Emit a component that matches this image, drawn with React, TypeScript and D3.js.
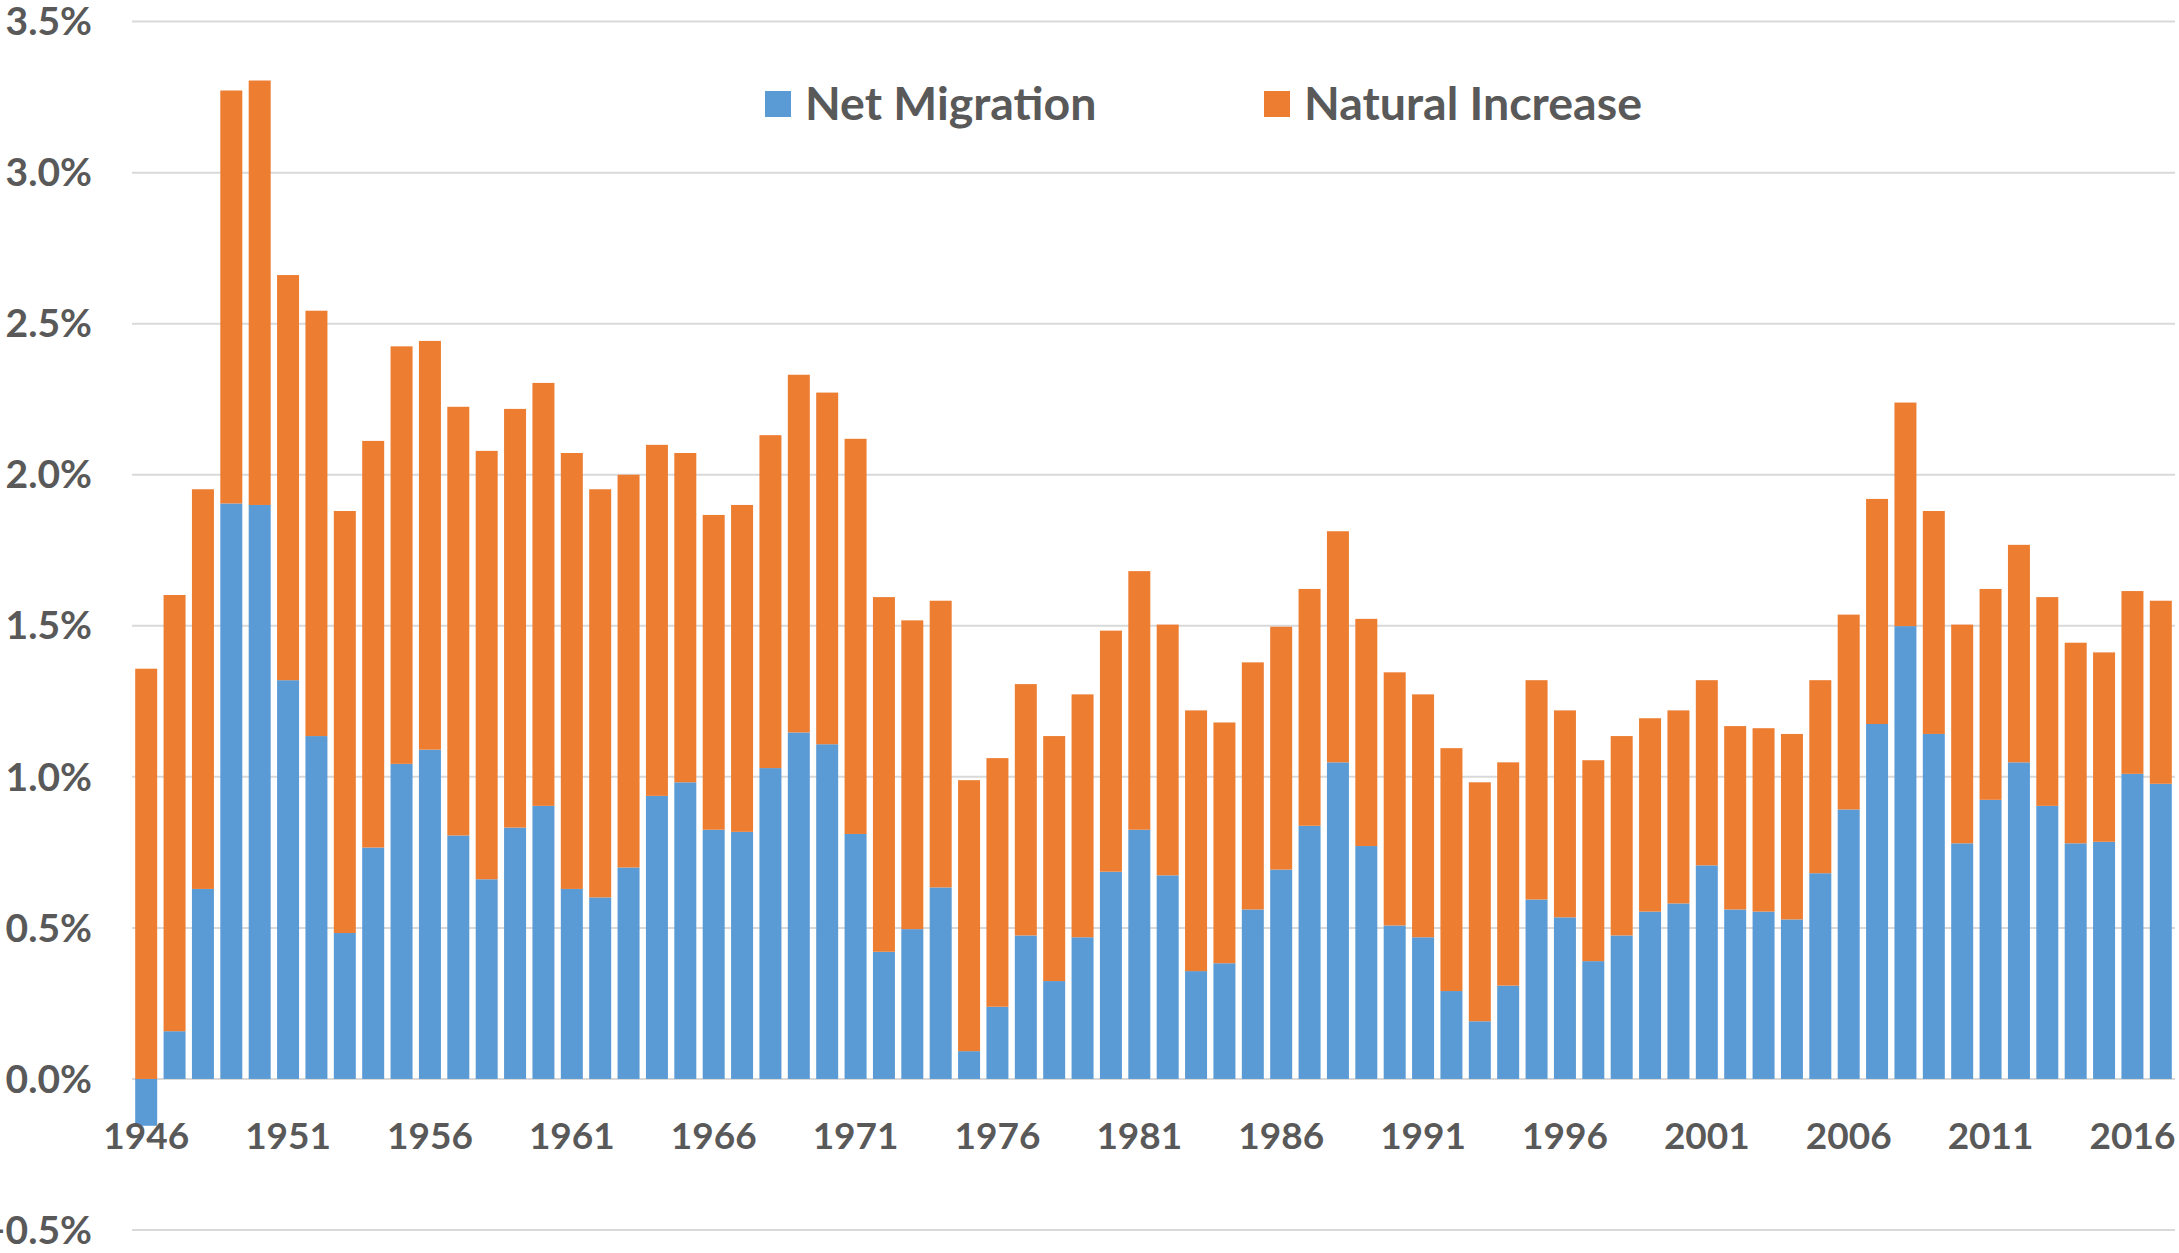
import React from "react";
import * as d3 from "d3";

// years 1946..2017
const years = d3.range(1946, 2018).map(String);

// percent of population
const netMigration = [
  -0.155, 0.158, 0.629, 1.905, 1.9, 1.32, 1.135, 0.483, 0.766, 1.043,
  1.09, 0.806, 0.661, 0.832, 0.904, 0.629, 0.601, 0.7, 0.937, 0.982,
  0.825, 0.818, 1.029, 1.147, 1.108, 0.811, 0.421, 0.496, 0.634, 0.092,
  0.239, 0.475, 0.324, 0.469, 0.686, 0.825, 0.674, 0.357, 0.383, 0.561,
  0.693, 0.838, 1.048, 0.771, 0.508, 0.469, 0.291, 0.191, 0.309, 0.594,
  0.535, 0.39, 0.475, 0.554, 0.581, 0.707, 0.561, 0.554, 0.528, 0.681,
  0.892, 1.175, 1.499, 1.142, 0.78, 0.924, 1.048, 0.904, 0.78, 0.785,
  1.01, 0.977,
];

const naturalIncrease = [
  1.358, 1.444, 1.323, 1.367, 1.405, 1.341, 1.408, 1.397, 1.346, 1.382,
  1.353, 1.419, 1.418, 1.386, 1.4, 1.443, 1.351, 1.3, 1.162, 1.09,
  1.042, 1.082, 1.102, 1.184, 1.164, 1.308, 1.174, 1.022, 0.949, 0.897,
  0.823, 0.832, 0.811, 0.804, 0.798, 0.856, 0.83, 0.863, 0.797, 0.818,
  0.804, 0.784, 0.765, 0.752, 0.838, 0.804, 0.804, 0.791, 0.739, 0.726,
  0.685, 0.665, 0.66, 0.64, 0.639, 0.613, 0.607, 0.607, 0.614, 0.639,
  0.645, 0.745, 0.74, 0.738, 0.724, 0.698, 0.72, 0.691, 0.664, 0.627,
  0.605, 0.606,
];

const seriesNames = ["Net Migration", "Natural Increase"];
const seriesColors = ["#5b9bd5", "#ed7d31"];
const yTicks = [-0.5, 0, 0.5, 1, 1.5, 2, 2.5, 3, 3.5];
const xLabels = years.filter((_, i) => i % 5 === 0);

const W = 2179;
const H = 1253;
const textColor = "#595959";
const font = "Lato, 'Open Sans', sans-serif";

export default function App() {
  const rows = years.map((y, i) => ({
    year: y,
    net: netMigration[i],
    natural: naturalIncrease[i],
  }));

  // diverging offset so the negative 1946 migration hangs below zero
  const stacked = d3
    .stack<any>()
    .keys(["net", "natural"])
    .offset(d3.stackOffsetDiverging)(rows);

  const x = d3
    .scaleBand<string>()
    .domain(years)
    .range([132, 2175])
    .paddingInner(0.225)
    .paddingOuter(0.1125);

  const y = d3.scaleLinear().domain([-0.5, 3.5]).range([1230, 21.6]);

  return (
    <div style={{ position: "absolute", left: 0, top: 0 }}>
      <svg width={W} height={H} style={{ display: "block", background: "#fff" }}>
        {yTicks.map((t) => (
          <line
            key={"g" + t}
            x1={132}
            x2={2175}
            y1={y(t)}
            y2={y(t)}
            stroke="#d9d9d9"
            strokeWidth={2}
          />
        ))}

        {stacked.map((s, si) => (
          <g key={s.key} fill={seriesColors[si]}>
            {s.map((d) => (
              <rect
                key={d.data.year}
                x={x(d.data.year)}
                width={x.bandwidth()}
                y={y(Math.max(d[0], d[1]))}
                height={Math.abs(y(d[0]) - y(d[1]))}
              />
            ))}
          </g>
        ))}

        {yTicks.map((t) => (
          <text
            key={"t" + t}
            x={92}
            y={y(t)}
            dy="0.35em"
            textAnchor="end"
            fontFamily={font}
            fontWeight="bold"
            fontSize={39}
            fill={textColor}
          >
            {d3.format(".1f")(t) + "%"}
          </text>
        ))}

        {xLabels.map((yr) => (
          <text
            key={"x" + yr}
            x={(x(yr) as number) + x.bandwidth() / 2}
            y={1149}
            textAnchor="middle"
            fontFamily={font}
            fontWeight="bold"
            fontSize={37}
            fill={textColor}
          >
            {yr}
          </text>
        ))}

        {seriesNames.map((name, i) => {
          const lx = [765, 1264][i];
          return (
            <g key={name}>
              <rect x={lx} y={91} width={26} height={26} fill={seriesColors[i]} />
              <text
                x={lx + 40}
                y={120}
                fontFamily={font}
                fontWeight="bold"
                fontSize={46.5}
                fill={textColor}
              >
                {name}
              </text>
            </g>
          );
        })}
      </svg>
    </div>
  );
}
